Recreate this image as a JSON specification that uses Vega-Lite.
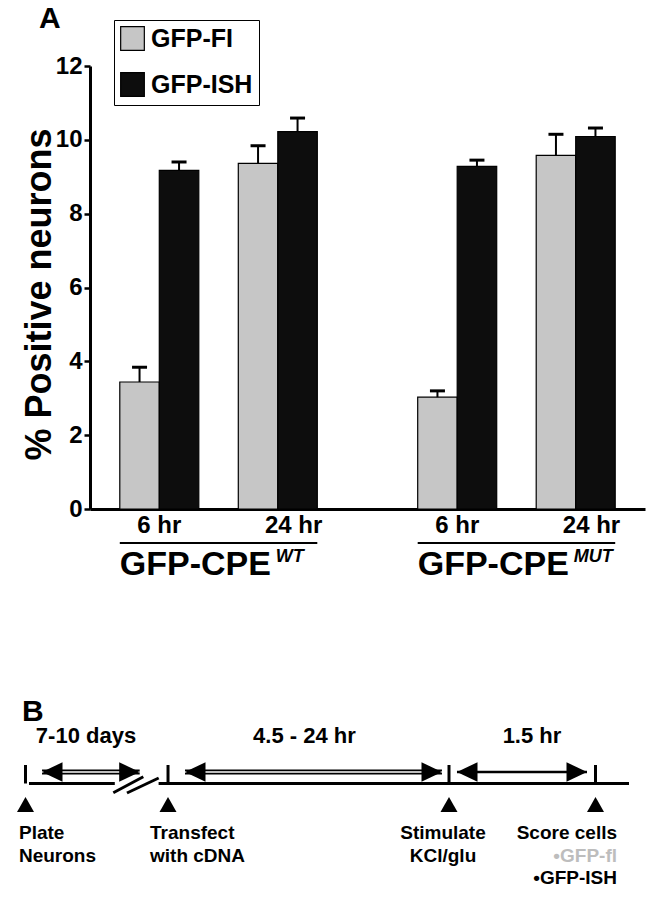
{
  "$schema": "https://vega.github.io/schema/vega-lite/v6.json",
  "background": "white",
  "padding": {"left": 17, "top": 4, "right": 16, "bottom": 11},
  "bounds": "flush",
  "spacing": 191,
  "config": {
    "view": {"stroke": null},
    "font": "Liberation Sans",
    "text": {"font": "Liberation Sans", "fontWeight": "bold", "color": "black"}
  },
  "datasets": {
    "bars": [
      {"construct": "WT", "time": "6 hr", "series": "GFP-FI", "bar": "6 hr · GFP-FI", "mean": 3.44, "upper": 3.84},
      {"construct": "WT", "time": "6 hr", "series": "GFP-ISH", "bar": "6 hr · GFP-ISH", "mean": 9.17, "upper": 9.4},
      {"construct": "WT", "time": "24 hr", "series": "GFP-FI", "bar": "24 hr · GFP-FI", "mean": 9.36, "upper": 9.84},
      {"construct": "WT", "time": "24 hr", "series": "GFP-ISH", "bar": "24 hr · GFP-ISH", "mean": 10.22, "upper": 10.59},
      {"construct": "MUT", "time": "6 hr", "series": "GFP-FI", "bar": "6 hr · GFP-FI", "mean": 3.03, "upper": 3.2},
      {"construct": "MUT", "time": "6 hr", "series": "GFP-ISH", "bar": "6 hr · GFP-ISH", "mean": 9.28, "upper": 9.45},
      {"construct": "MUT", "time": "24 hr", "series": "GFP-FI", "bar": "24 hr · GFP-FI", "mean": 9.58, "upper": 10.15},
      {"construct": "MUT", "time": "24 hr", "series": "GFP-ISH", "bar": "24 hr · GFP-ISH", "mean": 10.09, "upper": 10.32}
    ],
    "times": [
      {"construct": "WT", "time": "6 hr"},
      {"construct": "WT", "time": "24 hr"},
      {"construct": "MUT", "time": "6 hr"},
      {"construct": "MUT", "time": "24 hr"}
    ],
    "constructs": [
      {"construct": "WT", "name": "GFP-CPE", "variant": "WT"},
      {"construct": "MUT", "name": "GFP-CPE", "variant": "MUT"}
    ],
    "baseline": [
      {"from": 0, "to": 14.3},
      {"from": 21.6, "to": 100}
    ],
    "breakMarks": [
      {"x_start": 14.05, "y_start": -0.92, "x_end": 19.05, "y_end": 0.68},
      {"x_start": 16.33, "y_start": -0.95, "x_end": 21.62, "y_end": 0.55}
    ],
    "events": [
      {"event": "Plate neurons", "pos": -0.58},
      {"event": "Transfect", "pos": 23.17},
      {"event": "Stimulate", "pos": 70},
      {"event": "Score cells", "pos": 94.42}
    ],
    "intervals": [
      {"label": "7-10 days", "start": 2.17, "end": 18.45, "label_pos": 9.5},
      {"label": "4.5 - 24 hr", "start": 26, "end": 68.83, "label_pos": 45.9},
      {"label": "1.5 hr", "start": 71.33, "end": 93, "label_pos": 83.83}
    ],
    "steps": [
      {"event": "Plate neurons", "text": "Plate\nNeurons", "at": -1.67},
      {"event": "Transfect", "text": "Transfect\nwith cDNA", "at": 20.17},
      {"event": "Stimulate", "text": "Stimulate\nKCl/glu", "at": 69},
      {"event": "Score cells", "text": "Score cells", "at": 98}
    ],
    "scored": [
      {"series": "GFP-FI", "text": "•GFP-fl", "at": 98},
      {"series": "GFP-ISH", "text": "•GFP-ISH", "at": 98}
    ],
    "panels": [{"panel": "B", "at": -1.17}]
  },
  "vconcat": [
    {
      "width": 555,
      "height": 443,
      "title": {"text": "A", "anchor": "start", "frame": "group", "dx": -51, "offset": -4, "baseline": "alphabetic", "fontSize": 30, "font": "Liberation Sans", "fontWeight": "bold", "color": "black"},
      "layer": [
        {
          "data": {"name": "bars"},
          "mark": {"type": "bar", "stroke": "black", "strokeWidth": 1.2},
          "encoding": {
            "x": {"field": "construct", "type": "nominal", "scale": {"domain": ["WT", "MUT"], "paddingInner": 0.337, "paddingOuter": 0.1, "round": false}, "axis": {"title": null, "labels": false, "ticks": false, "domainWidth": 3, "domainColor": "black"}},
            "xOffset": {"field": "bar", "type": "nominal", "scale": {"domain": ["6 hr · GFP-FI", "6 hr · GFP-ISH", "gap", "24 hr · GFP-FI", "24 hr · GFP-ISH"], "paddingInner": 0, "paddingOuter": 0}},
            "y": {"field": "mean", "type": "quantitative", "title": "% Positive neurons", "scale": {"domain": [0, 12], "nice": false},
              "axis": {"values": [0, 2, 4, 6, 8, 10, 12], "grid": false, "domainWidth": 3, "domainColor": "black", "tickColor": "black", "tickWidth": 2.5, "tickSize": 6, "labelFontSize": 24, "labelFont": "Liberation Sans", "labelFontWeight": "bold", "labelColor": "black", "labelPadding": 2, "titleFontSize": 36, "titleFont": "Liberation Sans", "titleFontWeight": "bold", "titleColor": "black", "titlePadding": -3, "titleY": 228}},
            "color": {"field": "series", "type": "nominal", "scale": {"domain": ["GFP-FI", "GFP-ISH"], "range": ["#c6c6c6", "#0d0d0d"]},
              "legend": {"title": null, "orient": "none", "legendX": 24, "legendY": -46, "symbolType": "square", "symbolSize": 560, "symbolStrokeColor": "black", "symbolStrokeWidth": 1.2, "symbolOpacity": 1, "labelFontSize": 25, "labelFont": "Liberation Sans", "labelFontWeight": "bold", "labelColor": "black", "labelOffset": 6, "rowPadding": 17, "padding": 6, "strokeColor": "black"}}
          }
        },
        {
          "data": {"name": "bars"},
          "mark": {"type": "rule", "color": "black", "strokeWidth": 2},
          "encoding": {
            "x": {"field": "construct", "type": "nominal"},
            "xOffset": {"field": "bar", "type": "nominal"},
            "y": {"field": "mean", "type": "quantitative", "title": "% Positive neurons"},
            "y2": {"field": "upper"}
          }
        },
        {
          "data": {"name": "bars"},
          "mark": {"type": "tick", "color": "black", "thickness": 3, "size": 15, "opacity": 1},
          "encoding": {
            "x": {"field": "construct", "type": "nominal"},
            "xOffset": {"field": "bar", "type": "nominal"},
            "y": {"field": "upper", "type": "quantitative", "title": "% Positive neurons"}
          }
        },
        {
          "data": {"name": "times"},
          "transform": [{"filter": "datum.time === '6 hr'"}],
          "mark": {"type": "text", "fontSize": 24, "fontWeight": "bold", "baseline": "alphabetic", "align": "center", "color": "black"},
          "encoding": {
            "x": {"field": "construct", "type": "nominal", "bandPosition": 0.2},
            "y": {"datum": -0.65},
            "text": {"field": "time"}
          }
        },
        {
          "data": {"name": "times"},
          "transform": [{"filter": "datum.time === '24 hr'"}],
          "mark": {"type": "text", "fontSize": 24, "fontWeight": "bold", "baseline": "alphabetic", "align": "center", "color": "black"},
          "encoding": {
            "x": {"field": "construct", "type": "nominal", "bandPosition": 0.88},
            "y": {"datum": -0.65},
            "text": {"field": "time"}
          }
        },
        {
          "data": {"name": "constructs"},
          "mark": {"type": "bar", "color": "black"},
          "encoding": {
            "x": {"field": "construct", "type": "nominal"},
            "y": {"datum": -0.895},
            "y2": {"datum": -0.95}
          }
        },
        {
          "data": {"name": "constructs"},
          "mark": {"type": "text", "fontSize": 34, "fontWeight": "bold", "baseline": "alphabetic", "align": "left", "color": "black"},
          "encoding": {
            "x": {"field": "construct", "type": "nominal", "bandPosition": 0},
            "y": {"datum": -1.79},
            "text": {"field": "name"}
          }
        },
        {
          "data": {"name": "constructs"},
          "mark": {"type": "text", "fontSize": 18, "fontWeight": "bold", "fontStyle": "italic", "baseline": "alphabetic", "align": "left", "color": "black"},
          "encoding": {
            "x": {"field": "construct", "type": "nominal", "bandPosition": 0.79},
            "y": {"datum": -1.44},
            "text": {"field": "variant"}
          }
        }
      ]
    },
    {
      "width": 555,
      "height": 190,
      "layer": [
        {
          "data": {"name": "baseline"},
          "mark": {"type": "rule", "color": "black", "strokeWidth": 3},
          "encoding": {
            "x": {"field": "from", "type": "quantitative", "scale": {"domain": [10.1667, 102.6667], "nice": false, "zero": false}, "axis": null},
            "x2": {"field": "to"},
            "y": {"datum": 0, "type": "quantitative", "scale": {"domain": [-10.65, 8.35], "nice": false, "zero": false}, "axis": null}
          }
        },
        {
          "data": {"name": "breakMarks"},
          "mark": {"type": "rule", "color": "black", "strokeWidth": 3},
          "encoding": {
            "x": {"field": "x_start", "type": "quantitative", "scale": {"domain": [10.1667, 102.6667], "nice": false, "zero": false}, "axis": null},
            "x2": {"field": "x_end"},
            "y": {"field": "y_start", "type": "quantitative", "scale": {"domain": [-10.65, 8.35], "nice": false, "zero": false}, "axis": null},
            "y2": {"field": "y_end"}
          }
        },
        {
          "data": {"name": "events"},
          "mark": {"type": "rule", "color": "black", "strokeWidth": 3},
          "encoding": {
            "x": {"field": "pos", "type": "quantitative", "scale": {"domain": [10.1667, 102.6667], "nice": false, "zero": false}, "axis": null},
            "y": {"datum": 1.85, "type": "quantitative", "scale": {"domain": [-10.65, 8.35], "nice": false, "zero": false}, "axis": null},
            "y2": {"datum": 0}
          }
        },
        {
          "data": {"name": "events"},
          "mark": {"type": "point", "shape": "M0,-0.75L0.85,0.75L-0.85,0.75Z", "filled": true, "size": 400, "color": "black", "opacity": 1, "strokeWidth": 0},
          "encoding": {
            "x": {"field": "pos", "type": "quantitative", "scale": {"domain": [10.1667, 102.6667], "nice": false, "zero": false}, "axis": null},
            "y": {"datum": -2.1, "type": "quantitative", "scale": {"domain": [-10.65, 8.35], "nice": false, "zero": false}, "axis": null}
          }
        },
        {
          "data": {"name": "intervals"},
          "transform": [{"filter": "datum.label !== '1.5 hr'"}],
          "mark": {"type": "rule", "color": "black", "strokeWidth": 5},
          "encoding": {
            "x": {"field": "start", "type": "quantitative", "scale": {"domain": [10.1667, 102.6667], "nice": false, "zero": false}, "axis": null},
            "x2": {"field": "end"},
            "y": {"datum": 1.15, "type": "quantitative", "scale": {"domain": [-10.65, 8.35], "nice": false, "zero": false}, "axis": null}
          }
        },
        {
          "data": {"name": "intervals"},
          "transform": [{"filter": "datum.label !== '1.5 hr'"}],
          "mark": {"type": "rule", "color": "white", "strokeWidth": 1.6},
          "encoding": {
            "x": {"field": "start", "type": "quantitative", "scale": {"domain": [10.1667, 102.6667], "nice": false, "zero": false}, "axis": null},
            "x2": {"field": "end"},
            "y": {"datum": 1.15, "type": "quantitative", "scale": {"domain": [-10.65, 8.35], "nice": false, "zero": false}, "axis": null}
          }
        },
        {
          "data": {"name": "intervals"},
          "transform": [{"filter": "datum.label === '1.5 hr'"}],
          "mark": {"type": "rule", "color": "black", "strokeWidth": 2.5},
          "encoding": {
            "x": {"field": "start", "type": "quantitative", "scale": {"domain": [10.1667, 102.6667], "nice": false, "zero": false}, "axis": null},
            "x2": {"field": "end"},
            "y": {"datum": 1.15, "type": "quantitative", "scale": {"domain": [-10.65, 8.35], "nice": false, "zero": false}, "axis": null}
          }
        },
        {
          "data": {"name": "intervals"},
          "mark": {"type": "point", "shape": "M0,0L2,-0.95L2,0.95Z", "filled": true, "size": 420, "color": "black", "opacity": 1, "strokeWidth": 0},
          "encoding": {
            "x": {"field": "start", "type": "quantitative", "scale": {"domain": [10.1667, 102.6667], "nice": false, "zero": false}, "axis": null},
            "y": {"datum": 1.15, "type": "quantitative", "scale": {"domain": [-10.65, 8.35], "nice": false, "zero": false}, "axis": null}
          }
        },
        {
          "data": {"name": "intervals"},
          "mark": {"type": "point", "shape": "M0,0L-2,-0.95L-2,0.95Z", "filled": true, "size": 420, "color": "black", "opacity": 1, "strokeWidth": 0},
          "encoding": {
            "x": {"field": "end", "type": "quantitative", "scale": {"domain": [10.1667, 102.6667], "nice": false, "zero": false}, "axis": null},
            "y": {"datum": 1.15, "type": "quantitative", "scale": {"domain": [-10.65, 8.35], "nice": false, "zero": false}, "axis": null}
          }
        },
        {
          "data": {"name": "intervals"},
          "mark": {"type": "text", "fontSize": 22, "fontWeight": "bold", "baseline": "alphabetic", "align": "center", "color": "black"},
          "encoding": {
            "x": {"field": "label_pos", "type": "quantitative", "scale": {"domain": [10.1667, 102.6667], "nice": false, "zero": false}, "axis": null},
            "y": {"datum": 4.05, "type": "quantitative", "scale": {"domain": [-10.65, 8.35], "nice": false, "zero": false}, "axis": null},
            "text": {"field": "label"}
          }
        },
        {
          "data": {"name": "steps"},
          "transform": [{"filter": "datum.event === 'Plate neurons' || datum.event === 'Transfect'"}],
          "mark": {"type": "text", "fontSize": 19, "fontWeight": "bold", "baseline": "alphabetic", "align": "left", "lineBreak": "\n", "lineHeight": 23, "color": "black"},
          "encoding": {
            "x": {"field": "at", "type": "quantitative", "scale": {"domain": [10.1667, 102.6667], "nice": false, "zero": false}, "axis": null},
            "y": {"datum": -5.55, "type": "quantitative", "scale": {"domain": [-10.65, 8.35], "nice": false, "zero": false}, "axis": null},
            "text": {"field": "text"}
          }
        },
        {
          "data": {"name": "steps"},
          "transform": [{"filter": "datum.event === 'Stimulate'"}],
          "mark": {"type": "text", "fontSize": 19, "fontWeight": "bold", "baseline": "alphabetic", "align": "center", "lineBreak": "\n", "lineHeight": 23, "color": "black"},
          "encoding": {
            "x": {"field": "at", "type": "quantitative", "scale": {"domain": [10.1667, 102.6667], "nice": false, "zero": false}, "axis": null},
            "y": {"datum": -5.55, "type": "quantitative", "scale": {"domain": [-10.65, 8.35], "nice": false, "zero": false}, "axis": null},
            "text": {"field": "text"}
          }
        },
        {
          "data": {"name": "steps"},
          "transform": [{"filter": "datum.event === 'Score cells'"}],
          "mark": {"type": "text", "fontSize": 19, "fontWeight": "bold", "baseline": "alphabetic", "align": "right", "color": "black"},
          "encoding": {
            "x": {"field": "at", "type": "quantitative", "scale": {"domain": [10.1667, 102.6667], "nice": false, "zero": false}, "axis": null},
            "y": {"datum": -5.55, "type": "quantitative", "scale": {"domain": [-10.65, 8.35], "nice": false, "zero": false}, "axis": null},
            "text": {"field": "text"}
          }
        },
        {
          "data": {"name": "scored"},
          "transform": [{"filter": "datum.series === 'GFP-FI'"}],
          "mark": {"type": "text", "fontSize": 19, "fontWeight": "bold", "baseline": "alphabetic", "align": "right", "color": "#bdbdbd"},
          "encoding": {
            "x": {"field": "at", "type": "quantitative", "scale": {"domain": [10.1667, 102.6667], "nice": false, "zero": false}, "axis": null},
            "y": {"datum": -7.85, "type": "quantitative", "scale": {"domain": [-10.65, 8.35], "nice": false, "zero": false}, "axis": null},
            "text": {"field": "text"}
          }
        },
        {
          "data": {"name": "scored"},
          "transform": [{"filter": "datum.series === 'GFP-ISH'"}],
          "mark": {"type": "text", "fontSize": 19, "fontWeight": "bold", "baseline": "alphabetic", "align": "right", "color": "black"},
          "encoding": {
            "x": {"field": "at", "type": "quantitative", "scale": {"domain": [10.1667, 102.6667], "nice": false, "zero": false}, "axis": null},
            "y": {"datum": -10.05, "type": "quantitative", "scale": {"domain": [-10.65, 8.35], "nice": false, "zero": false}, "axis": null},
            "text": {"field": "text"}
          }
        },
        {
          "data": {"name": "panels"},
          "mark": {"type": "text", "fontSize": 30, "fontWeight": "bold", "baseline": "alphabetic", "align": "left", "color": "black"},
          "encoding": {
            "x": {"field": "at", "type": "quantitative", "scale": {"domain": [10.1667, 102.6667], "nice": false, "zero": false}, "axis": null},
            "y": {"datum": 6.25, "type": "quantitative", "scale": {"domain": [-10.65, 8.35], "nice": false, "zero": false}, "axis": null},
            "text": {"field": "panel"}
          }
        }
      ]
    }
  ]
}
